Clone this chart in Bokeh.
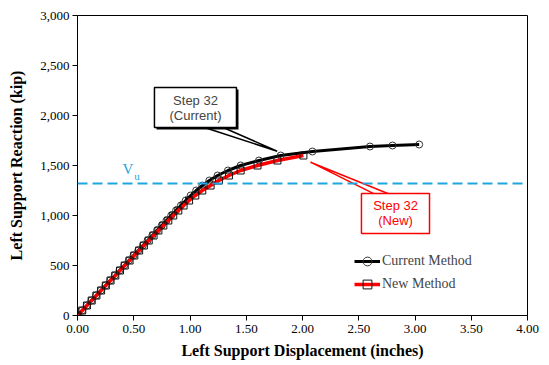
from bokeh.plotting import figure
from bokeh.models import (Span, Legend, LegendItem, NumeralTickFormatter,
                          SingleIntervalTicker, Range1d, Label)
from bokeh.embed import file_html
from bokeh.resources import INLINE

# ---- data -------------------------------------------------------------
cur_disp = [0.000, 0.041, 0.083, 0.124, 0.166, 0.207, 0.249, 0.290, 0.332, 0.373,
            0.415, 0.456, 0.498, 0.540, 0.581, 0.623, 0.665, 0.707, 0.749, 0.791,
            0.833, 0.876, 0.919, 0.962, 1.006, 1.055, 1.110, 1.172, 1.245, 1.337,
            1.450, 1.613, 1.806, 2.088, 2.600, 2.800, 3.037]
cur_react = [0, 50, 100, 150, 200, 250, 300, 350, 400, 450,
             500, 550, 600, 650, 700, 750, 800, 850, 900, 950,
             1000, 1050, 1100, 1150, 1200, 1250, 1300, 1350, 1400, 1450,
             1500, 1550, 1600, 1640, 1690, 1700, 1710]

new_disp = [0.000, 0.042, 0.084, 0.126, 0.168, 0.210, 0.252, 0.294, 0.336, 0.378,
            0.420, 0.463, 0.505, 0.548, 0.590, 0.633, 0.676, 0.719, 0.763, 0.807,
            0.851, 0.896, 0.943, 0.992, 1.047, 1.109, 1.183, 1.257, 1.346, 1.450,
            1.600, 1.777, 2.008]
new_react = [0, 50, 100, 150, 200, 250, 300, 350, 400, 450,
             500, 550, 600, 650, 700, 750, 800, 850, 900, 950,
             1000, 1050, 1100, 1150, 1200, 1250, 1300, 1350, 1400, 1450,
             1500, 1550, 1600]

vu = 1320
x_ticks_interval = 0.5
y_ticks_interval = 500

# ---- figure -----------------------------------------------------------
p = figure(width=549, height=365, frame_width=450, frame_height=300,
           x_range=Range1d(0, 4), y_range=Range1d(0, 3000),
           output_backend="svg", toolbar_location=None,
           min_border_left=77, min_border_right=22,
           min_border_top=15, min_border_bottom=50)
p.background_fill_color = "white"
p.border_fill_color = "white"
p.outline_line_color = "black"
p.outline_line_width = 1
p.xgrid.visible = False
p.ygrid.visible = False

serif = "Liberation Serif"
p.axis.axis_line_color = "black"
p.axis.axis_line_width = 1
p.axis.major_tick_line_color = "black"
p.axis.major_tick_out = 5
p.axis.major_tick_in = 0
p.axis.minor_tick_line_color = None
p.axis.major_label_text_font = serif
p.axis.major_label_text_font_size = "13px"
p.axis.major_label_text_color = "black"
p.axis.axis_label_text_font = serif
p.axis.axis_label_text_font_style = "bold"
p.axis.axis_label_text_font_size = "16px"
p.axis.axis_label_text_color = "black"

p.xaxis.ticker = SingleIntervalTicker(interval=x_ticks_interval)
p.yaxis.ticker = SingleIntervalTicker(interval=y_ticks_interval)
p.xaxis.formatter = NumeralTickFormatter(format="0.00")
p.yaxis.formatter = NumeralTickFormatter(format="0,0")
p.xaxis.axis_label = "Left Support Displacement (inches)"
p.yaxis.axis_label = "Left Support Reaction (kip)"
p.xaxis.major_label_standoff = 4
p.yaxis.major_label_standoff = 3
p.xaxis.axis_label_standoff = 6
p.yaxis.axis_label_standoff = 12

# Vu line
p.add_layout(Span(location=vu, dimension="width", line_color="#1FA5E0",
                  line_width=2, line_dash="10 5"))
p.add_layout(Label(x=0.40, y=1390, text="V", text_font=serif, text_font_size="15px",
                   text_color="#1FA5E0", text_align="left", text_baseline="bottom"))
p.add_layout(Label(x=0.505, y=1340, text="u", text_font=serif, text_font_size="11px",
                   text_color="#1FA5E0", text_align="left", text_baseline="bottom"))

# series
cur_line = p.line(cur_disp, cur_react, line_color="black", line_width=3)
cur_pts = p.scatter(cur_disp, cur_react, marker="circle", size=7, fill_color=None,
                    line_color="#333333", line_width=1)
new_line = p.line(new_disp, new_react, line_color="#FF0000", line_width=3.5)
new_pts = p.scatter(new_disp, new_react, marker="square", size=7, fill_color=None,
                    line_color="#111111", line_width=1)

# ---- callout: current -------------------------------------------------
p.patch([1.129, 1.775, 1.295], [1880, 1643, 1880], fill_color="white",
        line_color="black", line_width=1.5)
p.quad(left=[0.702], right=[1.431], top=[2260], bottom=[1860], fill_color="black",
       line_color=None)
p.quad(left=[0.684], right=[1.413], top=[2280], bottom=[1880], fill_color="white",
       line_color="black", line_width=1.5)
p.add_layout(Label(x=1.049, y=2150, text="Step 32", text_font="Liberation Sans",
                   text_font_size="13px", text_align="center", text_baseline="middle"))
p.add_layout(Label(x=1.049, y=2000, text="(Current)", text_font="Liberation Sans",
                   text_font_size="13px", text_align="center", text_baseline="middle"))

# ---- callout: new -----------------------------------------------------
p.patch([2.637, 2.071, 2.764], [1217, 1533, 1217], fill_color="white",
        line_color="#FF0000", line_width=1.5)
p.quad(left=[2.524], right=[3.129], top=[1220], bottom=[820], fill_color="white",
       line_color="#FF0000", line_width=1.5)
p.add_layout(Label(x=2.827, y=1100, text="Step 32", text_font="Liberation Sans",
                   text_font_size="13px", text_color="#FF0000", text_align="center",
                   text_baseline="middle"))
p.add_layout(Label(x=2.827, y=950, text="(New)", text_font="Liberation Sans",
                   text_font_size="13px", text_color="#FF0000", text_align="center",
                   text_baseline="middle"))

# ---- legend -----------------------------------------------------------
legend = Legend(items=[LegendItem(label="Current Method", renderers=[cur_line, cur_pts]),
                       LegendItem(label="New Method", renderers=[new_line, new_pts])],
                location=(277, 20), orientation="vertical",
                glyph_width=26, glyph_height=22, label_height=22, spacing=1,
                padding=0, margin=0, label_standoff=2,
                label_text_font=serif, label_text_font_size="14px",
                border_line_alpha=0, background_fill_alpha=0)
p.add_layout(legend)

open("out.html", "w").write(file_html(p, INLINE))
